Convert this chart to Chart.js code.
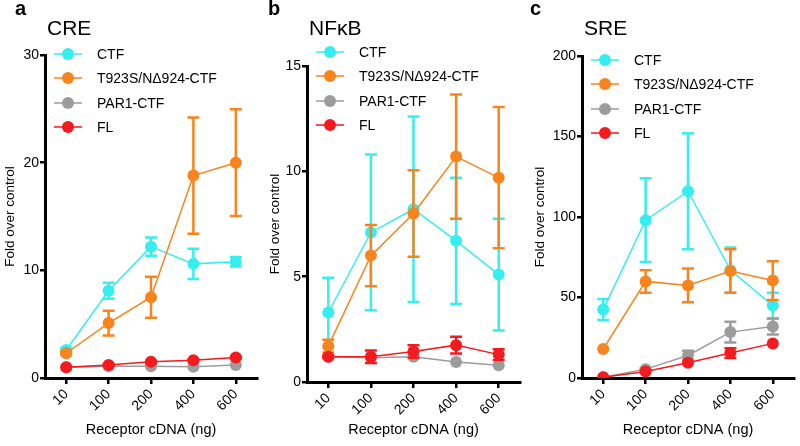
<!DOCTYPE html>
<html>
<head>
<meta charset="utf-8">
<script src="https://cdn.jsdelivr.net/npm/chart.js@4.4.0/dist/chart.umd.min.js"></script>
<style>
    body { margin: 0; background: #fff; width: 800px; height: 446px; overflow: hidden; position: relative; }
    .panel { position: absolute; top: 0; height: 446px; }
</style>
</head>
<body>
<div class="panel" style="left:0;width:265px"><canvas id="cre" width="265" height="446"></canvas></div>
<div class="panel" style="left:265px;width:265px"><canvas id="nfkb" width="265" height="446"></canvas></div>
<div class="panel" style="left:530px;width:270px"><canvas id="sre" width="270" height="446"></canvas></div>
<script>
"use strict";
// x categories (receptor cDNA, ng)
const Doses = ["10", "100", "200", "400", "600"];
const SeriesNames = ["CTF", "T923S/N\u0394924-CTF", "PAR1-CTF", "FL"];
const SeriesColors = ["#36EEF0", "#F7841C", "#9C9C9C", "#F41A1E"];
const DrawOrder = [3, 1, 2, 0]; // red on top, cyan at the bottom

// CRE
const CreCTF = [2.6, 8.1, 12.2, 10.6, 10.8];
const CreCTFErr = [0.2, 0.75, 0.85, 1.4, 0.45];
const CreMut = [2.3, 5.1, 7.5, 18.8, 20.0];
const CreMutErr = [0.15, 1.15, 1.9, 5.4, 4.95];
const CrePar1 = [1.0, 1.1, 1.1, 1.05, 1.2];
const CrePar1Err = [0, 0, 0, 0, 0];
const CreFL = [1.0, 1.2, 1.5, 1.65, 1.9];
const CreFLErr = [0, 0.1, 0.1, 0.1, 0.1];

// NFkB
const NfkbCTF = [3.3, 7.1, 8.2, 6.7, 5.1];
const NfkbCTFErr = [1.65, 3.7, 4.4, 3.0, 2.65];
const NfkbMut = [1.7, 6.0, 8.0, 10.7, 9.7];
const NfkbMutErr = [0.3, 1.45, 2.05, 2.95, 3.35];
const NfkbPar1 = [1.2, 1.15, 1.2, 0.95, 0.8];
const NfkbPar1Err = [0, 0, 0, 0, 0];
const NfkbFL = [1.2, 1.2, 1.45, 1.75, 1.3];
const NfkbFLErr = [0.05, 0.3, 0.3, 0.4, 0.25];

// SRE
const SreCTF = [42.5, 98, 116, 67, 45];
const SreCTFErr = [6.5, 26, 36, 14, 8];
const SreMut = [18, 60, 57.5, 66.5, 60.5];
const SreMutErr = [0, 7, 10.5, 13.5, 12];
const SrePar1 = [0.5, 5.5, 14, 28.5, 32];
const SrePar1Err = [0, 0.5, 3, 6.5, 5];
const SreFL = [0.5, 4, 9.5, 15.5, 21.5];
const SreFLErr = [0, 0, 0, 3, 0];

Chart.defaults.font.family = "'Liberation Sans', Arial, sans-serif";
Chart.defaults.color = "#000";

//error bars, drawn just before each dataset so layering follows the lines
const ErrorBars = {
    id: 'errorBars',
    beforeDatasetDraw(chart, args) {
        const ds = chart.data.datasets[args.index];
        const yScale = chart.scales.y;
        const ctx = chart.ctx;
        ctx.save();
        ctx.strokeStyle = ds.borderColor;
        ctx.lineWidth = 2.5;
        args.meta.data.forEach(function (pt, i) {
            const e = ds.err[i];
            if (!e) return;
            const top = yScale.getPixelForValue(ds.data[i] + e);
            const bot = yScale.getPixelForValue(Math.max(ds.data[i] - e, 0));
            ctx.beginPath();
            ctx.moveTo(pt.x, top); ctx.lineTo(pt.x, bot);
            ctx.moveTo(pt.x - 6, top); ctx.lineTo(pt.x + 6, top);
            ctx.moveTo(pt.x - 6, bot); ctx.lineTo(pt.x + 6, bot);
            ctx.stroke();
        });
        ctx.restore();
    }
};

function DrawPanel(id, letter, title, yMax, yStep, means, errs, setup) {
    const datasets = [];
    for (let i = 0; i < SeriesNames.length; i++) {
        datasets.push({
            label: SeriesNames[i],
            data: means[i],
            err: errs[i],
            borderColor: SeriesColors[i],
            backgroundColor: SeriesColors[i],
            borderWidth: 1.5,
            pointRadius: 6,
            pointHoverRadius: 6,
            pointBorderWidth: 0,
            order: DrawOrder[i]
        });
    }
    // panel letter, title and the legend inside the plot
    const Deco = {
        id: 'deco',
        afterDraw(chart) {
            const ctx = chart.ctx;
            const left = chart.chartArea.left;
            ctx.save();
            ctx.fillStyle = '#000';
            ctx.textBaseline = 'alphabetic';
            ctx.font = "bold 20px 'Liberation Sans', Arial, sans-serif";
            ctx.fillText(letter, setup.letterX, 15);
            ctx.font = "21px 'Liberation Sans', Arial, sans-serif";
            ctx.fillText(title, left + 2, 35);
            const rowGap = [0, 24, 49, 73];
            ctx.font = "14px 'Liberation Sans', Arial, sans-serif";
            ctx.textBaseline = 'middle';
            for (let i = 0; i < SeriesNames.length; i++) {
                const y = setup.legendTop + rowGap[i];
                ctx.strokeStyle = SeriesColors[i];
                ctx.lineWidth = 1.5;
                ctx.beginPath();
                ctx.moveTo(left + 9, y); ctx.lineTo(left + 37, y);
                ctx.stroke();
                ctx.fillStyle = SeriesColors[i];
                ctx.beginPath();
                ctx.arc(left + 23, y, 6, 0, Math.PI * 2);
                ctx.fill();
                ctx.fillStyle = '#000';
                ctx.fillText(SeriesNames[i], left + 52, y + 1);
            }
            ctx.restore();
        }
    };
    const config = {
        type: 'line',
        data: { labels: Doses, datasets: datasets },
        options: {
            responsive: false,
            animation: false,
            layout: { padding: { top: setup.padTop, right: setup.padRight, left: 0, bottom: 0 } },
            plugins: { legend: { display: false }, tooltip: { enabled: false } },
            scales: {
                x: {
                    offset: true,
                    grid: { drawOnChartArea: false, drawTicks: true, tickLength: 6, color: '#000', lineWidth: 2.5 },
                    border: { color: '#000', width: 3 },
                    ticks: { font: { size: 14 }, minRotation: 45, maxRotation: 45, padding: 2 },
                    title: { display: true, text: 'Receptor cDNA (ng)', font: { size: 14.5 }, padding: { top: 0, bottom: 7 } },
                    afterFit(s) { s.height = setup.xH; }
                },
                y: {
                    min: 0,
                    max: yMax,
                    grid: { drawOnChartArea: false, drawTicks: true, tickLength: 5, color: '#000', lineWidth: 2.5 },
                    border: { color: '#000', width: 3 },
                    ticks: { stepSize: yStep, font: { size: 14 }, padding: 1 },
                    title: { display: true, text: 'Fold over control', font: { size: 13.5 }, padding: { top: 2, bottom: 0 } },
                    afterFit(s) { s.width = setup.axisW; }
                }
            }
        },
        plugins: [ErrorBars, Deco]
    };
    return new Chart(document.getElementById(id), config);
}

DrawPanel('cre', 'a', 'CRE', 30, 10,
    [CreCTF, CreMut, CrePar1, CreFL],
    [CreCTFErr, CreMutErr, CrePar1Err, CreFLErr],
    { axisW: 45, padTop: 55, padRight: 8, xH: 68, letterX: 15, legendTop: 54 });
DrawPanel('nfkb', 'b', 'NF\u03BAB', 15, 5,
    [NfkbCTF, NfkbMut, NfkbPar1, NfkbFL],
    [NfkbCTFErr, NfkbMutErr, NfkbPar1Err, NfkbFLErr],
    { axisW: 42, padTop: 66, padRight: 10, xH: 64, letterX: 3, legendTop: 52 });
DrawPanel('sre', 'c', 'SRE', 200, 50,
    [SreCTF, SreMut, SrePar1, SreFL],
    [SreCTFErr, SreMutErr, SrePar1Err, SreFLErr],
    { axisW: 52, padTop: 56, padRight: 2, xH: 68, letterX: 0, legendTop: 60 });
</script>
</body>
</html>
